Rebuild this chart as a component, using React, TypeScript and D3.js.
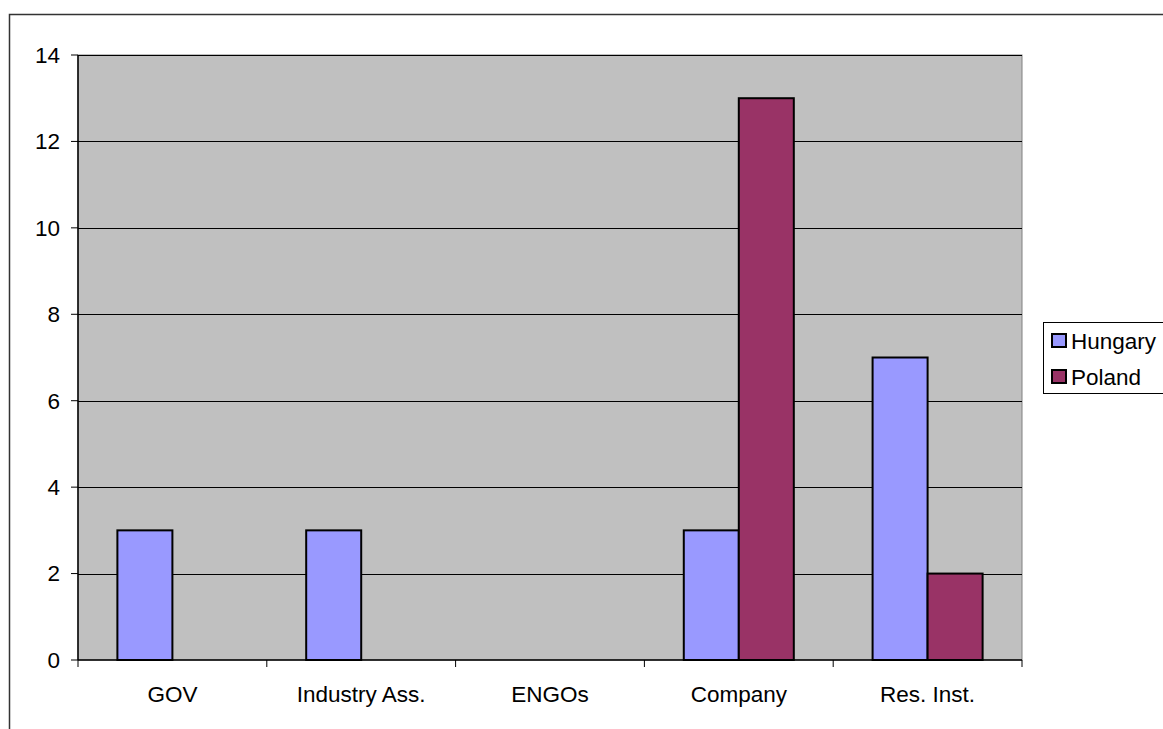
import React from "react";
import * as d3 from "d3";

const categories = ["GOV", "Industry Ass.", "ENGOs", "Company", "Res. Inst."];
const seriesNames = ["Hungary", "Poland"];
const hungary = [3, 3, 0, 3, 7];
const poland = [0, 0, 0, 13, 2];
const yTicks = [0, 2, 4, 6, 8, 10, 12, 14];
const colors = ["#9999FF", "#993366"];

export default function App() {
  const W = 1163, H = 729;
  const left = 78, right = 1022, top = 55, bottom = 660;
  const x = d3.scaleBand<string>().domain(categories).range([left, right]).paddingInner(0).paddingOuter(0);
  const y = d3.scaleLinear().domain([0, 14]).range([bottom, top]);
  const inner = d3.scaleBand<string>().domain(seriesNames).range([0, x.bandwidth()]).paddingInner(0).paddingOuter(0.716);
  const series = [hungary, poland];
  const font = "'Liberation Sans', Arial, sans-serif";
  const fs = 22.5;
  return (
    <svg width={W} height={H} style={{ position: "absolute", left: 0, top: 0, display: "block" }} fontFamily={font}>
      <rect x={0} y={0} width={W} height={H} fill="#fff" />
      <path d="M9.5,729 V14.5 H1163" fill="none" stroke="#333" strokeWidth={1.5} />
      <rect x={left} y={top} width={right - left} height={bottom - top} fill="#C0C0C0" stroke="#808080" strokeWidth={1} />
      {yTicks.filter(t => t > 0).map(t => (
        <line key={t} x1={left} x2={right} y1={Math.round(y(t)) + 0.5} y2={Math.round(y(t)) + 0.5} stroke="#000" strokeWidth={1} />
      ))}
      {series.map((vals, si) =>
        categories.map((c, ci) => {
          const v = vals[ci];
          if (!v) return null;
          const bx = (x(c) as number) + (inner(seriesNames[si]) as number);
          return (
            <rect key={si + "-" + ci} x={bx} y={y(v)} width={inner.bandwidth()} height={y(0) - y(v)}
              fill={colors[si]} stroke="#000" strokeWidth={2} />
          );
        })
      )}
      <line x1={left} x2={left} y1={top} y2={bottom} stroke="#000" strokeWidth={1.5} />
      <line x1={left} x2={right} y1={bottom} y2={bottom} stroke="#000" strokeWidth={1.5} />
      {yTicks.map(t => (
        <g key={t}>
          <line x1={left - 7} x2={left} y1={y(t)} y2={y(t)} stroke="#000" strokeWidth={1} />
          <text x={60} y={y(t)} dy="0.35em" textAnchor="end" fontSize={fs} fill="#000">{t}</text>
        </g>
      ))}
      {categories.map((c, i) => (
        <line key={"tk" + i} x1={x(c) as number} x2={x(c) as number} y1={bottom} y2={bottom + 7} stroke="#000" strokeWidth={1} />
      ))}
      <line x1={right} x2={right} y1={bottom} y2={bottom + 7} stroke="#000" strokeWidth={1} />
      {categories.map(c => (
        <text key={"lb" + c} x={(x(c) as number) + x.bandwidth() / 2} y={694} dy="0.35em" textAnchor="middle" fontSize={fs} fill="#000">{c}</text>
      ))}
      <rect x={1043.5} y={322.5} width={130} height={71} fill="#fff" stroke="#000" strokeWidth={1} />
      {seriesNames.map((s, i) => (
        <g key={s}>
          <rect x={1052} y={334 + i * 36} width={14} height={13} fill={colors[i]} stroke="#000" strokeWidth={2} />
          <text x={1071} y={341 + i * 36} dy="0.35em" fontSize={fs} fill="#000">{s}</text>
        </g>
      ))}
    </svg>
  );
}
